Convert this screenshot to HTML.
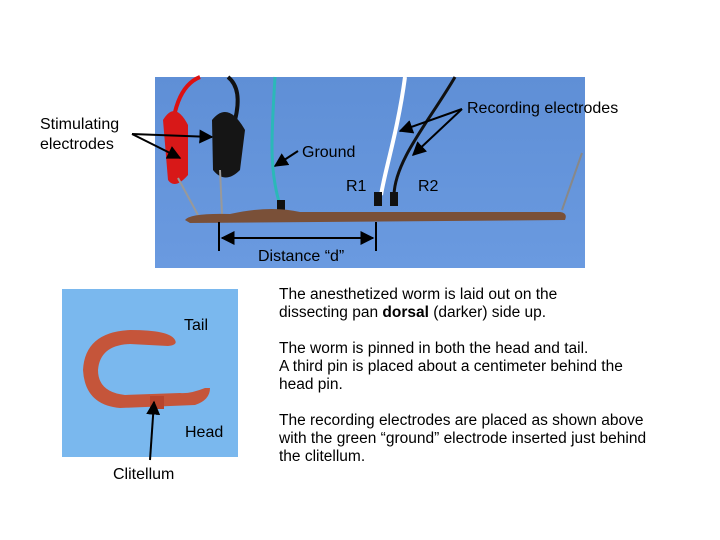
<!DOCTYPE html>
<html><head><meta charset="utf-8"><style>
body{margin:0;width:720px;height:540px;background:#fff;overflow:hidden;font-family:"Liberation Sans",sans-serif}
.t{position:absolute;font-size:15.5px;color:#000;line-height:18px;white-space:nowrap}
</style></head><body>
<svg width="720" height="540" style="position:absolute;left:0;top:0" font-family="Liberation Sans, sans-serif" font-size="16">
<defs>
<linearGradient id="bg" x1="0" y1="0" x2="0" y2="1"><stop offset="0" stop-color="#5f8fd6"/><stop offset="1" stop-color="#6a9ae0"/></linearGradient>
<marker id="a" viewBox="0 0 10 10" refX="9" refY="5" markerWidth="7" markerHeight="7" orient="auto"><path d="M0,0 L10,5 L0,10 z" fill="#000"/></marker>
</defs>
<rect x="155" y="77" width="430" height="191" fill="url(#bg)"/>
<path d="M170,150 C172,110 180,85 200,77" stroke="#d11" stroke-width="4" fill="none"/>
<path d="M235,120 C240,100 238,85 228,77" stroke="#111" stroke-width="4" fill="none"/>
<path d="M275,77 C272,130 268,170 281,208" stroke="#2bb8b8" stroke-width="3" fill="none"/>
<path d="M405,77 C398,130 385,170 381,195" stroke="#fff" stroke-width="4" fill="none"/>
<path d="M455,77 C430,120 395,160 394,195" stroke="#111" stroke-width="3" fill="none"/>
<path d="M163,120 Q175,100 188,125 L188,175 Q175,190 168,180 Z" fill="#d81818"/>
<path d="M212,120 Q228,100 245,130 L240,170 Q225,185 213,170 Z" fill="#151515"/>
<line x1="178" y1="178" x2="198" y2="215" stroke="#999" stroke-width="2"/>
<line x1="220" y1="170" x2="222" y2="214" stroke="#999" stroke-width="2"/>
<line x1="562" y1="210" x2="582" y2="153" stroke="#888" stroke-width="2"/>
<rect x="277" y="200" width="8" height="13" fill="#111"/>
<rect x="374" y="192" width="8" height="14" fill="#111"/>
<rect x="390" y="192" width="8" height="14" fill="#111"/>
<path d="M185,220 Q190,213 230,214 Q270,205 300,212 L560,212 Q568,213 565,220 L190,223 Z" fill="#7a5038"/>
<line x1="219" y1="222" x2="219" y2="251" stroke="#000" stroke-width="2"/>
<line x1="376" y1="222" x2="376" y2="251" stroke="#000" stroke-width="2"/>
<line x1="222" y1="238" x2="373" y2="238" stroke="#000" stroke-width="2" marker-end="url(#a)"/>
<line x1="373" y1="238" x2="222" y2="238" stroke="#000" stroke-width="2" marker-end="url(#a)"/>
<text x="258" y="261">Distance “d”</text>
<line x1="132" y1="134" x2="180" y2="158" stroke="#000" stroke-width="2" marker-end="url(#a)"/>
<line x1="132" y1="134" x2="212" y2="137" stroke="#000" stroke-width="2" marker-end="url(#a)"/>
<line x1="298" y1="151" x2="275" y2="166" stroke="#000" stroke-width="2" marker-end="url(#a)"/>
<text x="302" y="157">Ground</text>
<line x1="462" y1="109" x2="400" y2="131" stroke="#000" stroke-width="2" marker-end="url(#a)"/>
<line x1="462" y1="109" x2="413" y2="155" stroke="#000" stroke-width="2" marker-end="url(#a)"/>
<text x="467" y="113">Recording electrodes</text>
<text x="346" y="191">R1</text>
<text x="418" y="191">R2</text>
<text x="40" y="129">Stimulating</text>
<text x="40" y="149">electrodes</text>
<rect x="62" y="289" width="176" height="168" fill="#7ab8ee"/>
<path d="M175,340 Q170,330 130,330 Q85,332 83,370 Q85,405 120,408 L195,405 Q210,400 210,388 L205,388 Q190,394 180,393 L125,395 Q98,392 98,370 Q100,345 130,344 L168,346 Q178,345 175,340 Z" fill="#c5553a"/>
<rect x="150" y="396" width="14" height="13" fill="#b8442c"/>
<text x="184" y="330">Tail</text>
<text x="185" y="437">Head</text>
<line x1="150" y1="460" x2="154" y2="402" stroke="#000" stroke-width="2" marker-end="url(#a)"/>
<text x="113" y="479">Clitellum</text>
</svg>
<div class="t" style="left:279px;top:286px">The anesthetized worm is laid out on the<br>dissecting pan <b>dorsal</b> (darker) side up.<br><br>The worm is pinned in both the head and tail.<br>A third pin is placed about a centimeter behind the<br>head pin.<br><br>The recording electrodes are placed as shown above<br>with the green “ground” electrode inserted just behind<br>the clitellum.</div>
</body></html>
